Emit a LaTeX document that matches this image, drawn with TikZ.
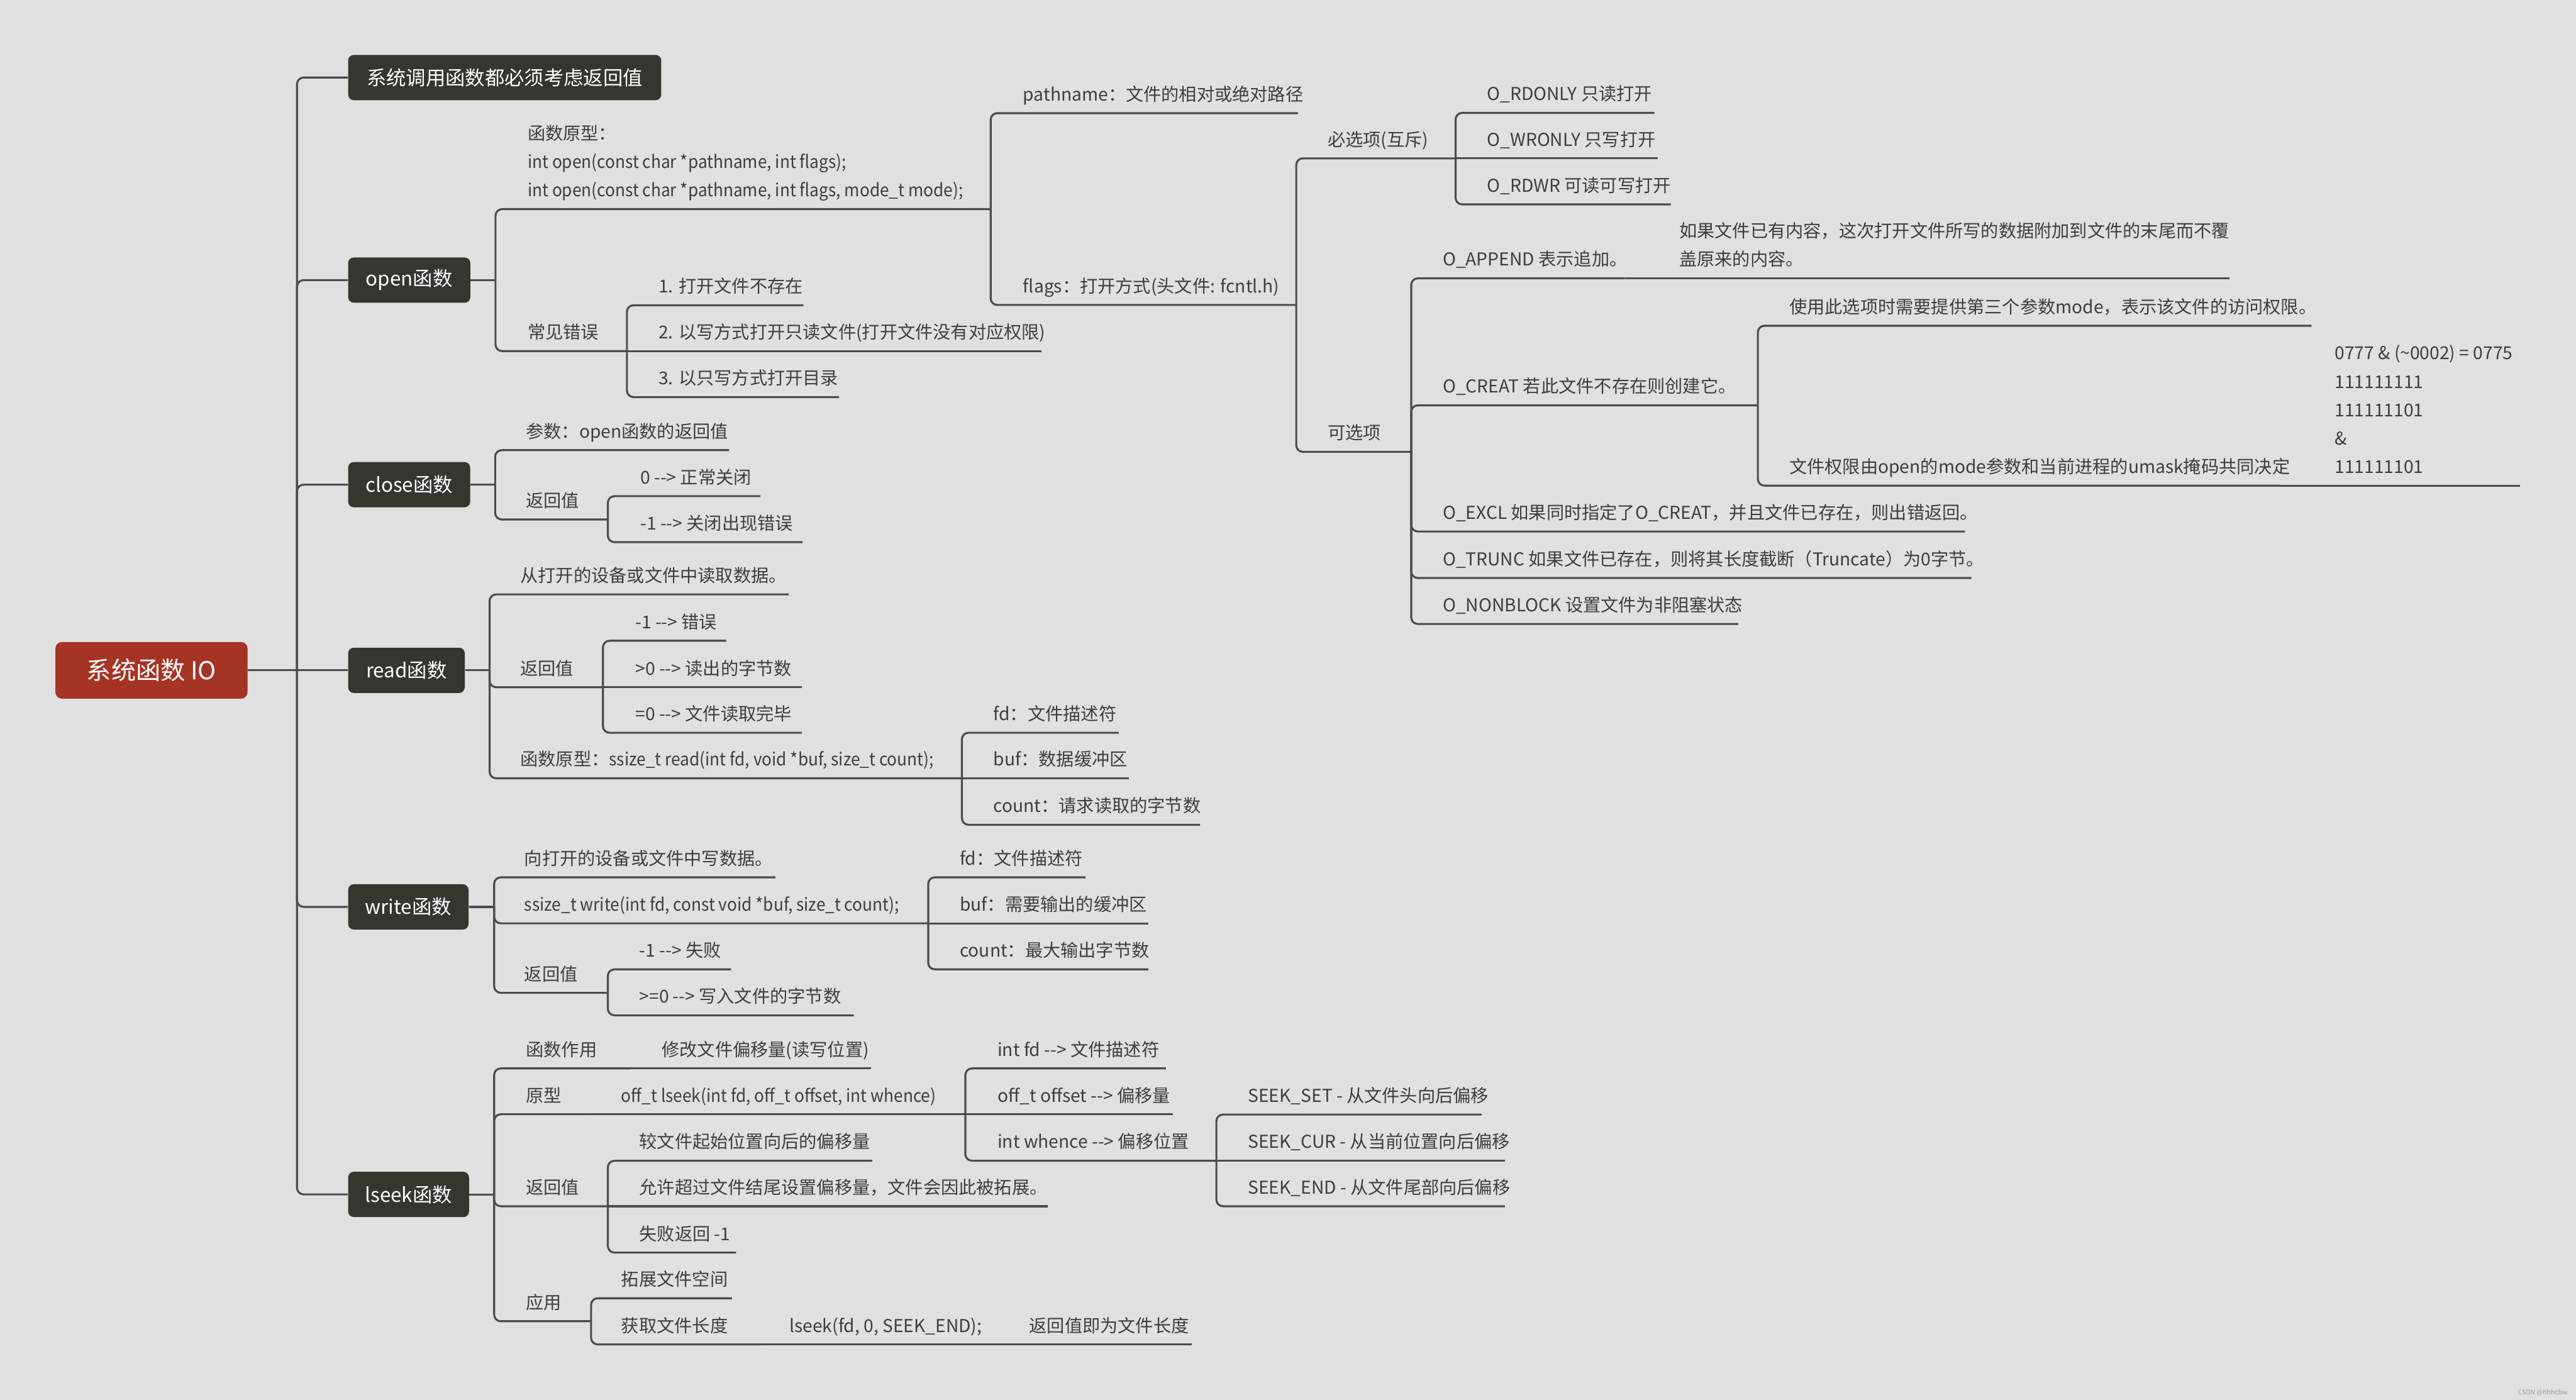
\documentclass[tikz,border=0pt]{standalone}
\usepackage{fontspec}
\setmainfont{Noto Sans CJK SC}
\newfontfamily\lat[FakeStretch=0.93]{Noto Sans CJK SC}
\definecolor{bg}{HTML}{E0E0E0}
\definecolor{ln}{HTML}{4B4B50}
\definecolor{tx}{HTML}{3E3E3E}
\definecolor{boxc}{HTML}{363631}
\definecolor{rootc}{HTML}{A63425}
\newcommand\ml[1]{\begin{tabular}[b]{@{}l@{}}#1\end{tabular}}
\newcommand\itm[6]{%
  \coordinate (#1-s) at (#2,#3);
  \coordinate (#1-e) at (#4,#3);
  \node[lbl] (#1) at (#5,#3-7.5) {#6};}
\begin{document}
\begin{tikzpicture}[x=1pt,y=-1pt,
  conn/.style={draw=ln, line width=1.2pt, rounded corners=4pt},
  lbl/.style={anchor=base west, inner sep=0pt, text=tx, font=\fontsize{10.8}{17.3}\selectfont},
  lvl/.style={anchor=west, fill=boxc, text=white, rounded corners=3.5pt, minimum height=27.6pt, inner sep=0pt, font=\fontsize{12}{14}\selectfont},
  rootbox/.style={fill=rootc, text=white, rounded corners=4pt, minimum width=117pt, minimum height=34.5pt, inner sep=0pt, font=\fontsize{15}{18}\selectfont}]
\fill[bg] (0,0) rectangle (1568,852);
\useasboundingbox (0,0) rectangle (1568,852);

% root and level 1
\node[rootbox] (root) at (92.2,408) {系统函数 IO};
\node[lvl, minimum width=190.6pt] (top) at (211.7,47.2) {系统调用函数都必须考虑返回值};
\node[lvl, minimum width=74.4pt] (open) at (211.7,170.5) {open函数};
\node[lvl, minimum width=74.3pt] (close) at (211.7,295) {close函数};
\node[lvl, minimum width=71pt] (read) at (211.7,408) {read函数};
\node[lvl, minimum width=73.3pt] (write) at (211.7,552) {write函数};
\node[lvl, minimum width=73.6pt] (lseek) at (211.7,727) {lseek函数};
\coordinate (sp) at (180.8,408);
\draw[conn] (root.east) -- (read.west);
\foreach \n in {top,open,close,write,lseek} \draw[conn] (sp) |- (\n.west);

% open
\coordinate (open-j) at (301.6,170.5);
\draw[conn] (open.east) -- (open-j);
\itm{proto}{301.6}{127.3}{603}{321}{\ml{函数原型：\\{\lat int open(const char *pathname, int flags);}\\{\lat int open(const char *pathname, int flags, mode\_t mode);}}}
\itm{err}{301.6}{213.7}{381.6}{321}{常见错误}
\draw[conn] (open-j) |- (proto-e);
\draw[conn] (open-j) |- (err-e);
\itm{path}{603}{68.9}{790}{622.6}{pathname：文件的相对或绝对路径}
\itm{flags}{603}{185.6}{789}{622.6}{flags：打开方式(头文件: fcntl.h)}
\draw[conn] (proto-e) |- (path-e);
\draw[conn] (proto-e) |- (flags-e);
\itm{e1}{381.6}{185.8}{489}{400.7}{1. 打开文件不存在}
\itm{e2}{381.6}{213.7}{634}{400.7}{2. 以写方式打开只读文件(打开文件没有对应权限)}
\itm{e3}{381.6}{241.7}{510.7}{400.7}{3. 以只写方式打开目录}
\draw[conn] (err-e) |- (e1-e);
\draw[conn] (err-e) -- (e2-e);
\draw[conn] (err-e) |- (e3-e);

% flags
\itm{must}{789}{96.4}{886}{808}{必选项(互斥)}
\itm{opt}{789}{275}{859}{808}{可选项}
\draw[conn] (flags-e) |- (must-e);
\draw[conn] (flags-e) |- (opt-e);
\itm{rdonly}{886}{68.7}{1007}{905}{O\_RDONLY 只读打开}
\itm{wronly}{886}{96.4}{1009}{905}{O\_WRONLY 只写打开}
\itm{rdwr}{886}{124.4}{1017}{905}{O\_RDWR 可读可写打开}
\draw[conn] (must-e) |- (rdonly-e);
\draw[conn] (must-e) -- (wronly-e);
\draw[conn] (must-e) |- (rdwr-e);
\itm{append}{859}{169.4}{989}{878}{O\_APPEND 表示追加。}
\itm{appd}{989}{169.4}{1357}{1022}{\ml{如果文件已有内容，这次打开文件所写的数据附加到文件的末尾而不覆\\盖原来的内容。}}
\itm{creat}{859}{246.7}{1070}{878}{O\_CREAT 若此文件不存在则创建它。}
\itm{excl}{859}{323.5}{1196}{878}{O\_EXCL 如果同时指定了O\_CREAT，并且文件已存在，则出错返回。}
\itm{trunc}{859}{351.8}{1200}{878}{O\_TRUNC 如果文件已存在，则将其长度截断（Truncate）为0字节。}
\itm{nonblock}{859}{379.8}{1058}{878}{O\_NONBLOCK 设置文件为非阻塞状态}
\draw[conn] (opt-e) |- (append-e);
\draw[conn] (append-e) -- (appd-e);
\draw[conn] (opt-e) |- (creat-e);
\draw[conn] (opt-e) |- (excl-e);
\draw[conn] (opt-e) |- (trunc-e);
\draw[conn] (opt-e) |- (nonblock-e);
\itm{mode}{1070}{198.3}{1407}{1089}{使用此选项时需要提供第三个参数mode，表示该文件的访问权限。}
\itm{perm}{1070}{295.6}{1388}{1089}{文件权限由open的mode参数和当前进程的umask掩码共同决定}
\itm{umask}{1388}{295.6}{1534}{1421}{\ml{0777 \& (\textasciitilde 0002) = 0775\\111111111\\111111101\\\&\\111111101}}
\draw[conn] (creat-e) |- (mode-e);
\draw[conn] (creat-e) |- (perm-e);
\draw[conn] (perm-e) -- (umask-e);

% close
\coordinate (close-j) at (301.4,295);
\draw[conn] (close.east) -- (close-j);
\itm{cpar}{301.4}{274}{443.8}{320}{参数：open函数的返回值}
\itm{cret}{301.4}{316.2}{370}{320}{返回值}
\draw[conn] (close-j) |- (cpar-e);
\draw[conn] (close-j) |- (cret-e);
\itm{c0}{370}{302}{462.8}{389.6}{0 -{}-> 正常关闭}
\itm{c1}{370}{330}{488.5}{389.6}{-1 -{}-> 关闭出现错误}
\draw[conn] (cret-e) |- (c0-e);
\draw[conn] (cret-e) |- (c1-e);

% read
\coordinate (read-j) at (298,408);
\draw[conn] (read.east) -- (read-j);
\itm{rdesc}{298}{361.8}{480}{316.6}{从打开的设备或文件中读取数据。}
\itm{rret}{298}{418.3}{367}{316.6}{返回值}
\itm{rproto}{298}{473.7}{585.5}{316.6}{函数原型：{\lat ssize\_t read(int fd, void *buf, size\_t count);}}
\draw[conn] (read-j) |- (rdesc-e);
\draw[conn] (read-j) |- (rret-e);
\draw[conn] (read-j) |- (rproto-e);
\itm{r1}{367}{390}{442}{386.6}{-1 -{}-> 错误}
\itm{r2}{367}{418.3}{488}{386.6}{>0 -{}-> 读出的字节数}
\itm{r3}{367}{446}{488}{386.6}{=0 -{}-> 文件读取完毕}
\draw[conn] (rret-e) |- (r1-e);
\draw[conn] (rret-e) -- (r2-e);
\draw[conn] (rret-e) |- (r3-e);
\itm{rfd}{585.5}{446}{681}{604.5}{fd：文件描述符}
\itm{rbuf}{585.5}{473.7}{687}{604.5}{buf：数据缓冲区}
\itm{rcnt}{585.5}{502}{730.4}{604.5}{count：请求读取的字节数}
\draw[conn] (rproto-e) |- (rfd-e);
\draw[conn] (rproto-e) -- (rbuf-e);
\draw[conn] (rproto-e) |- (rcnt-e);

% write
\coordinate (write-j) at (300.8,552);
\draw[conn] (write.east) -- (write-j);
\itm{wdesc}{300.8}{534}{472}{319}{向打开的设备或文件中写数据。}
\itm{wproto}{300.8}{562}{565}{319}{{\lat ssize\_t write(int fd, const void *buf, size\_t count);}}
\itm{wret}{300.8}{604.3}{370}{319}{返回值}
\draw[conn] (write-j) |- (wdesc-e);
\draw[conn] (write-j) |- (wproto-e);
\draw[conn] (write-j) |- (wret-e);
\itm{wfd}{565}{534}{660.8}{584}{fd：文件描述符}
\itm{wbuf}{565}{562}{699}{584}{buf：需要输出的缓冲区}
\itm{wcnt}{565}{590}{699}{584}{count：最大输出字节数}
\draw[conn] (wproto-e) |- (wfd-e);
\draw[conn] (wproto-e) -- (wbuf-e);
\draw[conn] (wproto-e) |- (wcnt-e);
\itm{w1}{370}{590}{445}{389}{-1 -{}-> 失败}
\itm{w2}{370}{618}{519.7}{389}{>=0 -{}-> 写入文件的字节数}
\draw[conn] (wret-e) |- (w1-e);
\draw[conn] (wret-e) |- (w2-e);

% lseek
\coordinate (lseek-j) at (300.8,727);
\draw[conn] (lseek.east) -- (lseek-j);
\itm{lact}{300.8}{650.3}{384}{320}{函数作用}
\itm{lactc}{384}{650.3}{530}{402.7}{修改文件偏移量(读写位置)}
\itm{lpro}{300.8}{678.2}{360}{320}{原型}
\itm{lproc}{360}{678.2}{587.6}{378}{{\lat off\_t lseek(int fd, off\_t offset, int whence)}}
\itm{lret}{300.8}{734.2}{370}{320}{返回值}
\itm{lapp}{300.8}{804.2}{359.8}{320}{应用}
\draw[conn] (lseek-j) |- (lact-e);
\draw[conn] (lact-e) -- (lactc-e);
\draw[conn] (lseek-j) |- (lpro-e);
\draw[conn] (lpro-e) -- (lproc-e);
\draw[conn] (lseek-j) |- (lret-e);
\draw[conn] (lseek-j) |- (lapp-e);
\itm{lfd}{587.6}{650.3}{709.7}{607}{int fd -{}-> 文件描述符}
\itm{loff}{587.6}{678.2}{714}{607}{off\_t offset -{}-> 偏移量}
\itm{lwh}{587.6}{706.5}{740.4}{607}{int whence -{}-> 偏移位置}
\draw[conn] (lproc-e) |- (lfd-e);
\draw[conn] (lproc-e) -- (loff-e);
\draw[conn] (lproc-e) |- (lwh-e);
\itm{lset}{740.4}{678.4}{901.8}{759.5}{SEEK\_SET - 从文件头向后偏移}
\itm{lcur}{740.4}{706.5}{916}{759.5}{SEEK\_CUR - 从当前位置向后偏移}
\itm{lendn}{740.4}{734.2}{916}{759.5}{SEEK\_END - 从文件尾部向后偏移}
\draw[conn] (lwh-e) |- (lset-e);
\draw[conn] (lwh-e) -- (lcur-e);
\draw[conn] (lwh-e) |- (lendn-e);
\itm{lr1}{370}{706.5}{531}{389}{较文件起始位置向后的偏移量}
\itm{lr2}{370}{734.2}{637.6}{389}{允许超过文件结尾设置偏移量，文件会因此被拓展。}
\itm{lr3}{370}{762.4}{448}{389}{失败返回 -1}
\draw[conn] (lret-e) |- (lr1-e);
\draw[conn] (lret-e) -- (lr2-e);
\draw[conn] (lret-e) |- (lr3-e);
\itm{la1}{359.8}{790.2}{445.5}{378}{拓展文件空间}
\itm{la2}{359.8}{818.3}{463}{378}{获取文件长度}
\itm{la3}{463}{818.3}{610}{480.4}{lseek(fd, 0, SEEK\_END);}
\itm{la4}{610}{818.3}{725.5}{626.3}{返回值即为文件长度}
\draw[conn] (lapp-e) |- (la1-e);
\draw[conn] (lapp-e) |- (la2-e);
\draw[conn] (la2-e) -- (la3-e);
\draw[conn] (la3-e) -- (la4-e);

\node[anchor=east, inner sep=0pt, text=black!40, font=\fontsize{4}{5}\selectfont] (wm) at (1563,847.6) {CSDN @hhhcbw};
\end{tikzpicture}
\end{document}
